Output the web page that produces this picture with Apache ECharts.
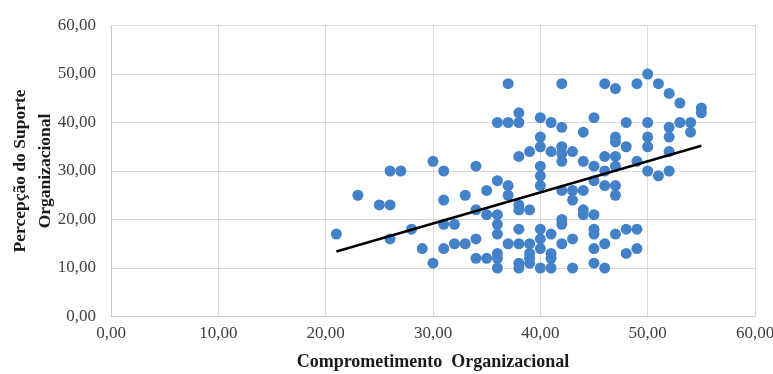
<!DOCTYPE html>
<html>
<head>
<meta charset="utf-8">
<script src="https://cdn.jsdelivr.net/npm/echarts@6/dist/echarts.min.js"></script>
<style>
html,body{margin:0;padding:0;background:#fff;}
#chart{width:773px;height:374px;}
</style>
</head>
<body>
<div id="chart"></div>
<script>
// Comprometimento Organizacional (x) and Percepção do Suporte Organizacional (y)
var comprometimento = [
  21,23,25,26,26,27,26,28,29,30,30,31,31,31,31,32,32,33,33,34,34,34,34,35,35,35,
  36,36,36,36,36,36,36,36,
  37,37,37,37,37,
  38,38,38,38,38,38,38,38,38,
  39,39,39,39,39,39,
  40,40,40,40,40,40,40,40,40,40,
  41,41,41,41,41,41,
  42,42,42,42,42,42,42,42,42,
  43,43,43,43,43,
  44,44,44,44,44,
  45,45,45,45,45,45,45,45,
  46,46,46,46,46,46,
  47,47,47,47,47,47,47,47,
  48,48,48,48,
  49,49,49,49,
  50,50,50,50,50,
  51,51,
  52,52,52,52,52,
  53,53,
  54,54,
  55,55
];
var suporte = [
  17,25,23,23,30,30,16,18,14,11,32,30,24,19,14,19,15,15,25,16,12,22,31,12,26,21,
  40,28,21,19,17,13,12,10,
  48,40,27,25,15,
  42,40,33,23,22,18,15,11,10,
  34,22,15,13,12,11,
  41,37,35,31,29,27,18,16,14,10,
  40,34,17,13,12,10,
  48,39,35,33.6,32,26,20,19,15,
  34,26,24,16,10,
  38,32,26,22,21,
  41,31,28,21,18,17,14,11,
  48,33,30,27,15,10,
  47,37,36,33,31,27,25,17,
  40,35,18,13,
  48,32,18,14,
  50,40,37,35,30,
  48,29,
  46,39,37,34,30,
  44,40,
  40,38,
  43,42
];
// Linear trend line endpoints
var trendX = [21, 55];
var trendY = [13.4, 35.2];
var tickValues = [0, 10, 20, 30, 40, 50, 60];

var points = comprometimento.map(function (x, i) { return [x, suporte[i]]; });
var trend = trendX.map(function (x, i) { return [x, trendY[i]]; });

function fmt(v) { return v.toFixed(2).replace('.', ','); }

var serif = '"Liberation Serif", "Times New Roman", serif';
var chart = echarts.init(document.getElementById('chart'), null, {renderer: 'canvas'});
chart.setOption({
  animation: false,
  backgroundColor: '#ffffff',
  grid: {left: 111, right: 18, top: 25.5, bottom: 57.5, containLabel: false, outerBoundsMode: 'none'},
  xAxis: {
    type: 'value', min: tickValues[0], max: tickValues[tickValues.length - 1], interval: 10,
    name: 'Comprometimento  Organizacional',
    nameLocation: 'middle', nameGap: 37, nameMoveOverlap: false,
    nameTextStyle: {fontFamily: serif, fontWeight: 'bold', fontSize: 18, color: '#1a1a1a'},
    axisLine: {show: true, lineStyle: {color: '#c8c8c8', width: 1}},
    axisTick: {show: false},
    splitLine: {show: true, lineStyle: {color: '#d9d9d9', width: 1}},
    axisLabel: {formatter: fmt, fontFamily: serif, fontSize: 17, color: '#404040', margin: 9}
  },
  yAxis: {
    type: 'value', min: tickValues[0], max: tickValues[tickValues.length - 1], interval: 10,
    name: 'Percepção do Suporte\nOrganizacional',
    nameLocation: 'middle', nameGap: 53, nameRotate: 90, nameMoveOverlap: false,
    nameTextStyle: {fontFamily: serif, fontWeight: 'bold', fontSize: 17.5, color: '#1a1a1a', lineHeight: 25},
    axisLine: {show: true, lineStyle: {color: '#c8c8c8', width: 1}},
    axisTick: {show: false},
    splitLine: {show: true, lineStyle: {color: '#d9d9d9', width: 1}},
    axisLabel: {formatter: fmt, fontFamily: serif, fontSize: 17, color: '#404040', margin: 15}
  },
  series: [
    {
      type: 'scatter', data: points, symbol: 'circle', symbolSize: 11,
      itemStyle: {color: '#4382c8', opacity: 1},
      z: 2
    },
    {
      type: 'line', data: trend, showSymbol: false, symbol: 'none',
      lineStyle: {color: '#000000', width: 2.5},
      z: 3
    }
  ]
});
</script>
</body>
</html>
